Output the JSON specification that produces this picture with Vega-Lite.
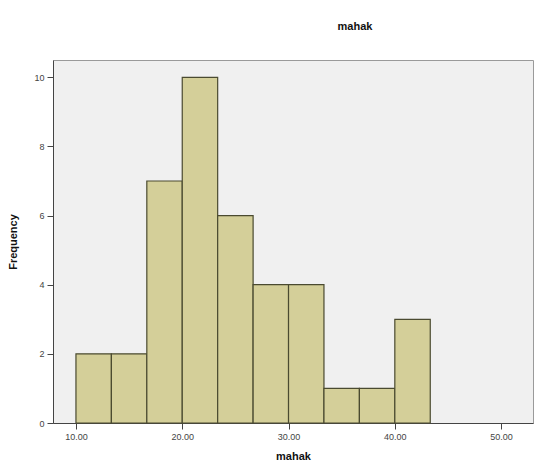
{
  "$schema": "https://vega.github.io/schema/vega-lite/v6.json",
  "autosize": {"type": "none"},
  "width": 480,
  "height": 363,
  "padding": {"left": 53, "top": 60, "right": 9, "bottom": 49},
  "background": "white",
  "title": {
    "text": "mahak",
    "fontSize": 11,
    "fontWeight": "bold",
    "font": "Liberation Sans",
    "color": "#111",
    "anchor": "middle",
    "dx": 62,
    "offset": 28
  },
  "config": {
    "view": {"fill": "#f0f0f0", "stroke": "#9a9a9a", "strokeWidth": 1},
    "axis": {
      "labelFont": "Liberation Sans",
      "titleFont": "Liberation Sans",
      "labelFontSize": 9,
      "labelColor": "#444",
      "titleFontSize": 11,
      "titleFontWeight": "bold",
      "titleColor": "#111",
      "domainColor": "#444",
      "tickColor": "#444",
      "grid": false
    }
  },
  "data": {
    "values": [
      {"start": 10.0, "end": 13.333, "count": 2},
      {"start": 13.333, "end": 16.667, "count": 2},
      {"start": 16.667, "end": 20.0, "count": 7},
      {"start": 20.0, "end": 23.333, "count": 10},
      {"start": 23.333, "end": 26.667, "count": 6},
      {"start": 26.667, "end": 30.0, "count": 4},
      {"start": 30.0, "end": 33.333, "count": 4},
      {"start": 33.333, "end": 36.667, "count": 1},
      {"start": 36.667, "end": 40.0, "count": 1},
      {"start": 40.0, "end": 43.333, "count": 3}
    ]
  },
  "mark": {"type": "rect", "fill": "#d4cf99", "stroke": "#4a4a30", "strokeWidth": 1.2},
  "encoding": {
    "x": {
      "field": "start",
      "type": "quantitative",
      "scale": {"domain": [7.84, 53], "nice": false, "zero": false},
      "axis": {
        "title": "mahak",
        "values": [10, 20, 30, 40, 50],
        "format": ".2f",
        "tickSize": 6,
        "labelPadding": 3,
        "titlePadding": 9
      }
    },
    "x2": {"field": "end"},
    "y": {
      "field": "count",
      "type": "quantitative",
      "scale": {"domain": [0, 10.5], "nice": false},
      "axis": {
        "title": "Frequency",
        "values": [0, 2, 4, 6, 8, 10],
        "tickSize": 6,
        "labelPadding": 3,
        "titlePadding": 15
      }
    },
    "y2": {"datum": 0}
  }
}
